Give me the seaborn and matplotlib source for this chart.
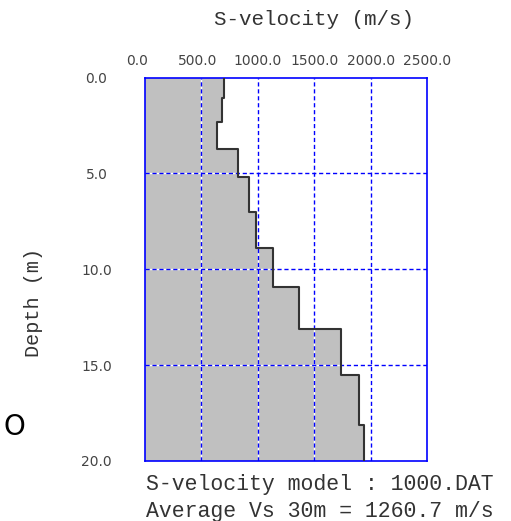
import numpy as np
import pandas as pd
import matplotlib
matplotlib.use('Agg')
import matplotlib.pyplot as plt
import matplotlib.transforms as mtransforms
import seaborn as sns

# layer model: top depth (m) and S-velocity (m/s)
layer_top = [0.0, 1.08, 2.3, 3.72, 5.19, 7.0, 8.91, 10.94, 13.1, 15.5, 18.1]
layer_vs = [700, 680, 635, 822, 922, 984, 1132, 1362, 1735, 1897, 1944]
max_depth = 20.0

x_ticks = [0, 500, 1000, 1500, 2000, 2500]
x_labels = ['0.0', '500.0', '1000.0', '1500.0', '2000.0', '2500.0']
y_ticks = [0, 5, 10, 15, 20]
y_labels = ['0.0', '5.0', '10.0', '15.0', '20.0']

model_name = '1000.DAT'
avg_vs30 = 1260.7

# step profile from the layers
layer_bot = layer_top[1:] + [max_depth]
vel_pts, dep_pts = [], []
for t, b, v in zip(layer_top, layer_bot, layer_vs):
    vel_pts += [v, v]
    dep_pts += [t, b]
profile = pd.DataFrame({'vs': vel_pts, 'depth': dep_pts})

sns.set_style('white')
mono = 'Liberation Mono'

fig = plt.figure(figsize=(5.11, 5.21), dpi=100)
ax = fig.add_axes([0.2838, 0.1152, 0.5518, 0.736])

ax.fill_betweenx(profile['depth'], 0, profile['vs'], color='#c0c0c0', lw=0, zorder=1)

# white under the dashed blue grid, as in the original
for xv in x_ticks[1:-1]:
    ax.axvline(xv, color='white', lw=1, zorder=2)
for yv in y_ticks[1:-1]:
    ax.axhline(yv, color='white', lw=1, zorder=2)
for xv in x_ticks[1:-1]:
    ax.axvline(xv, color='blue', lw=1, ls=(0, (3, 2)), zorder=3)
for yv in y_ticks[1:-1]:
    ax.axhline(yv, color='blue', lw=1, ls=(0, (3, 2)), zorder=3)

sns.lineplot(data=profile, x='vs', y='depth', sort=False, estimator=None,
             color='#333333', lw=1.5, ax=ax, zorder=4)

ax.set_xlim(0, 2500)
ax.set_ylim(max_depth, 0)
ax.xaxis.tick_top()
ax.set_xticks(x_ticks)
ax.set_xticklabels(x_labels, fontsize=10, family='DejaVu Sans', color='#444444')
ax.set_yticks(y_ticks)
ax.set_yticklabels(y_labels, fontsize=10, family='DejaVu Sans', color='#444444', ha='center')
ax.tick_params(axis='x', length=0, pad=7)
ax.tick_params(axis='y', length=0, pad=35)
ax.set_xlabel('')
ax.set_ylabel('')
for sp in ax.spines.values():
    sp.set_color('blue')
    sp.set_linewidth(1.2)
    sp.set_visible(True)

# the old program nudges shorter labels to the left
shift_px = [-8, -4, 0, 0, 0, 0]
for lab, dx in zip(ax.get_xticklabels(), shift_px):
    lab.set_transform(lab.get_transform() +
                      mtransforms.ScaledTranslation(dx / 100, 0, fig.dpi_scale_trans))

fig.text(0.6145, 0.952, 'S-velocity (m/s)', family=mono, fontsize=15,
         ha='center', va='baseline', color='#333333')
fig.text(0.0646, 0.4203, 'Depth (m)', family=mono, fontsize=14.5,
         ha='center', va='center', rotation=90, color='#333333')
fig.text(0.2857, 0.0595, 'S-velocity model : ' + model_name, family=mono,
         fontsize=15.5, ha='left', va='baseline', color='#333333')
fig.text(0.2857, 0.0077, 'Average Vs 30m = %.1f m/s' % avg_vs30, family=mono,
         fontsize=15.5, ha='left', va='baseline', color='#333333')
fig.text(0.006, 0.165, 'O', family='DejaVu Sans', fontsize=20,
         ha='left', va='baseline', color='black')

fig.savefig('out.png', dpi=100)
